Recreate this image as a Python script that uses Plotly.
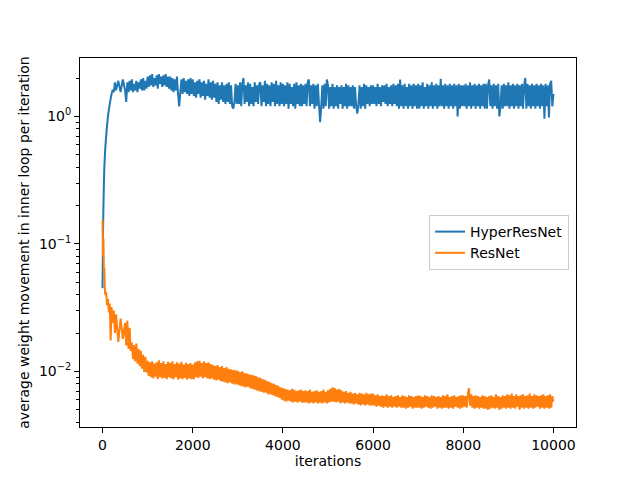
import plotly.graph_objects as go

# iteration grid: dense at the start, then every 25 iterations
early_iters = [0, 10, 20, 30, 40, 50, 60, 80, 100, 120, 140, 160, 180, 200,
               225, 250, 275, 300, 350, 400, 450]
iterations = early_iters + list(range(500, 10001, 25))

# values, one row per 500 iterations
hyper_early = [0.045, 0.12, 0.2, 0.3, 0.4, 0.48, 0.56, 0.7, 0.85, 1.0, 1.13,
               1.25, 1.38, 1.5, 1.62, 1.55, 1.85, 1.6, 1.9, 1.55, 1.95]
hyper_rest = [
    1.6, 1.3, 1.85, 1.55, 1.9, 1.6, 1.95, 1.55, 1.8, 1.6, 1.9, 1.55, 1.85, 1.65, 1.95, 1.6, 2.0, 1.6, 1.9, 1.65,
    2.05, 1.7, 2.1, 1.75, 2.15, 1.7, 2.0, 1.75, 2.1, 1.65, 2.15, 1.8, 2.05, 1.7, 2.1, 1.75, 2.15, 1.7, 2.05, 1.65,
    2.05, 1.6, 2.0, 1.55, 1.95, 1.6, 2.05, 1.5, 1.2, 1.55, 1.95, 1.5, 2.0, 1.55, 1.9, 1.5, 1.95, 1.45, 2.0, 1.5,
    1.95, 1.45, 1.85, 1.4, 1.9, 1.5, 1.95, 1.4, 1.85, 1.45, 1.9, 1.35, 1.8, 1.45, 1.95, 1.4, 1.85, 1.35, 1.9, 1.4,
    1.8, 1.3, 1.85, 1.25, 1.75, 1.35, 1.85, 1.3, 1.75, 1.25, 1.8, 1.3, 1.85, 1.25, 1.75, 1.2, 1.15, 1.3, 1.8, 1.25,
    1.75, 1.25, 1.85, 1.2, 1.8, 2.0, 1.25, 1.75, 1.3, 1.85, 1.2, 1.8, 1.25, 1.7, 1.2, 1.85, 1.3, 1.75, 1.25, 1.8,
    1.85, 1.2, 1.75, 1.3, 1.9, 1.2, 1.8, 1.25, 1.75, 1.2, 1.85, 1.3, 1.8, 1.2, 1.9, 1.25, 1.75, 1.2, 1.85, 1.25,
    1.8, 1.2, 1.75, 1.25, 1.85, 1.15, 1.8, 1.25, 1.7, 1.2, 1.8, 1.15, 1.85, 1.25, 1.75, 1.2, 1.8, 1.2, 1.75, 1.25,
    1.8, 1.2, 1.85, 1.95, 1.2, 1.75, 1.25, 1.8, 1.15, 1.75, 1.2, 1.8, 1.25, 0.9, 1.2, 1.75, 1.15, 1.8, 1.2, 1.95,
    1.75, 1.15, 1.7, 1.2, 1.8, 1.15, 1.7, 1.2, 1.75, 1.15, 1.7, 1.25, 1.75, 1.15, 1.7, 1.2, 1.8, 1.15, 1.75, 1.2,
    1.7, 1.2, 1.75, 1.15, 1.7, 1.2, 1.05, 1.25, 1.75, 1.15, 1.7, 1.2, 1.8, 1.15, 1.75, 1.25, 1.7, 1.2, 1.75, 1.25,
    1.75, 1.25, 1.7, 1.2, 1.8, 1.25, 1.7, 1.2, 1.75, 1.3, 1.75, 1.25, 1.8, 1.2, 1.7, 1.25, 1.75, 1.2, 1.8, 1.25,
    1.75, 1.2, 1.8, 1.15, 1.95, 1.2, 1.75, 1.15, 1.8, 1.2, 1.7, 1.15, 1.8, 1.2, 1.75, 1.15, 1.8, 1.2, 1.75, 1.15,
    1.8, 1.15, 1.75, 1.2, 1.85, 1.15, 1.7, 1.2, 1.8, 1.15, 1.75, 1.2, 1.85, 1.15, 1.75, 1.2, 1.8, 1.15, 1.75, 1.2,
    1.97, 1.2, 1.75, 1.15, 1.8, 1.2, 1.75, 1.15, 1.8, 1.2, 1.75, 1.15, 1.8, 1.2, 1.75, 1.0, 1.8, 1.15, 1.75, 1.2,
    1.75, 1.2, 1.8, 1.15, 1.75, 1.2, 1.85, 1.15, 1.75, 1.2, 1.8, 1.15, 1.75, 1.2, 1.8, 1.15, 1.75, 1.2, 1.8, 1.15,
    1.8, 1.15, 1.75, 1.95, 1.2, 1.75, 1.15, 1.8, 1.2, 1.75, 1.15, 1.8, 1.0, 1.2, 1.75, 1.15, 1.8, 1.2, 1.75, 1.2,
    1.85, 1.15, 1.75, 1.2, 1.8, 1.15, 1.75, 1.2, 1.8, 1.15, 1.75, 1.2, 1.8, 1.15, 1.75, 2.0, 1.15, 1.8, 1.2, 1.75,
    1.15, 1.8, 1.2, 1.75, 1.15, 1.8, 1.2, 1.75, 1.15, 1.8, 1.2, 1.75, 0.96, 1.8, 1.2, 1.75, 0.98, 1.8, 1.9, 1.2,
    1.5,
]
hyper = hyper_early + hyper_rest

resnet_early = [0.155, 0.08, 0.11, 0.06, 0.065, 0.045, 0.04, 0.042, 0.033,
                0.037, 0.029, 0.034, 0.0175, 0.032, 0.024, 0.03, 0.02, 0.028,
                0.017, 0.026, 0.018]
resnet_rest = [
    0.024, 0.016, 0.025, 0.015, 0.022, 0.0145, 0.0168, 0.0125, 0.016, 0.012, 0.0165, 0.0115, 0.015, 0.011, 0.0145, 0.0105, 0.0135, 0.0099, 0.013, 0.0098,
    0.0121, 0.0092, 0.0118, 0.009, 0.012, 0.0088, 0.0115, 0.0091, 0.0118, 0.0087, 0.0122, 0.009, 0.0116, 0.0088, 0.012, 0.0089, 0.0114, 0.0087, 0.0119, 0.009,
    0.0117, 0.0088, 0.012, 0.0087, 0.0114, 0.009, 0.0118, 0.0086, 0.0115, 0.0088, 0.0119, 0.0087, 0.0113, 0.0089, 0.0117, 0.0086, 0.0114, 0.0088, 0.0116, 0.0087,
    0.0113, 0.0087, 0.0118, 0.009, 0.012, 0.0089, 0.0121, 0.0091, 0.0117, 0.0088, 0.012, 0.009, 0.0116, 0.0088, 0.0118, 0.0087, 0.0114, 0.0088, 0.0112, 0.0086,
    0.011, 0.0085, 0.0112, 0.0086, 0.0108, 0.0084, 0.011, 0.0083, 0.0106, 0.0082, 0.0108, 0.0081, 0.0105, 0.0082, 0.0104, 0.008, 0.0103, 0.0079, 0.0102, 0.0079,
    0.0101, 0.0078, 0.0099, 0.0077, 0.01, 0.0076, 0.0097, 0.0075, 0.0096, 0.0076, 0.0095, 0.0074, 0.0094, 0.0073, 0.0093, 0.0072, 0.0092, 0.0071, 0.009, 0.007,
    0.0089, 0.0069, 0.0087, 0.0068, 0.0086, 0.0068, 0.0084, 0.0066, 0.0083, 0.0066, 0.0081, 0.0065, 0.008, 0.0064, 0.0078, 0.0063, 0.0077, 0.0062, 0.0075, 0.006,
    0.0074, 0.0059, 0.0073, 0.0058, 0.0072, 0.0059, 0.0071, 0.0058, 0.0073, 0.0057, 0.0072, 0.0058, 0.007, 0.0057, 0.0071, 0.0058, 0.0072, 0.0057, 0.007, 0.0057,
    0.0071, 0.0057, 0.007, 0.0056, 0.0072, 0.0057, 0.0069, 0.0056, 0.007, 0.0057, 0.0071, 0.0056, 0.0069, 0.0057, 0.007, 0.0056, 0.0072, 0.0057, 0.0069, 0.0056,
    0.0071, 0.0057, 0.0073, 0.0058, 0.0075, 0.0058, 0.0074, 0.0057, 0.0072, 0.0058, 0.0073, 0.0056, 0.0071, 0.0057, 0.0069, 0.0056, 0.007, 0.0057, 0.0068, 0.0056,
    0.0069, 0.0056, 0.0067, 0.0055, 0.0068, 0.0056, 0.0066, 0.0055, 0.0068, 0.0054, 0.0067, 0.0055, 0.0066, 0.0054, 0.0068, 0.0055, 0.0066, 0.0054, 0.0067, 0.0054,
    0.0067, 0.0054, 0.0065, 0.0053, 0.0066, 0.0054, 0.0064, 0.0053, 0.0065, 0.0052, 0.0064, 0.0053, 0.0066, 0.0052, 0.0064, 0.0053, 0.0065, 0.0052, 0.0063, 0.0053,
    0.0064, 0.0052, 0.0065, 0.0053, 0.0063, 0.0052, 0.0065, 0.0052, 0.0064, 0.0051, 0.0063, 0.0052, 0.0065, 0.0053, 0.0064, 0.0051, 0.0063, 0.0052, 0.0064, 0.0052,
    0.0065, 0.0052, 0.0064, 0.0051, 0.0063, 0.0052, 0.0065, 0.0053, 0.0064, 0.0052, 0.0063, 0.0051, 0.0065, 0.0052, 0.0064, 0.0053, 0.0063, 0.0051, 0.0064, 0.0052,
    0.0063, 0.0051, 0.0065, 0.0052, 0.0064, 0.0052, 0.0066, 0.0051, 0.0063, 0.0052, 0.0064, 0.0051, 0.0065, 0.0053, 0.0063, 0.0052, 0.0064, 0.0051, 0.0065, 0.0052,
    0.0065, 0.0053, 0.0064, 0.0052, 0.0066, 0.0074, 0.0054, 0.0066, 0.0052, 0.0064, 0.0051, 0.0065, 0.0052, 0.0064, 0.0051, 0.0063, 0.0052, 0.0065, 0.0051, 0.0064,
    0.0051, 0.0063, 0.005, 0.0064, 0.0051, 0.0065, 0.0052, 0.0063, 0.0051, 0.0066, 0.0052, 0.0064, 0.005, 0.0063, 0.0051, 0.0065, 0.0052, 0.0064, 0.0051, 0.0066,
    0.0052, 0.0065, 0.0051, 0.0067, 0.0052, 0.0064, 0.0051, 0.0066, 0.0053, 0.0064, 0.005, 0.0065, 0.0052, 0.0066, 0.0051, 0.0064, 0.0052, 0.0065, 0.0051, 0.0067,
    0.0052, 0.0064, 0.0051, 0.0066, 0.0052, 0.0065, 0.0053, 0.0064, 0.0051, 0.0065, 0.0052, 0.0066, 0.0051, 0.0064, 0.0052, 0.0065, 0.0051, 0.0066, 0.0052, 0.0064,
    0.0058,
]
resnet = resnet_early + resnet_rest

assert len(hyper) == len(iterations) and len(resnet) == len(iterations)

x_ticks = [0, 2000, 4000, 6000, 8000, 10000]
y_ticks = [0.01, 0.1, 1]
y_tick_labels = ["10<sup>−2</sup>", "10<sup>−1</sup>", "10<sup>0</sup>"]
y_minor = [0.004, 0.005, 0.006, 0.007, 0.008, 0.009,
           0.02, 0.03, 0.04, 0.05, 0.06, 0.07, 0.08, 0.09,
           0.2, 0.3, 0.4, 0.5, 0.6, 0.7, 0.8, 0.9, 2]

font = dict(family="DejaVu Sans", size=14, color="black")

fig = go.Figure()
fig.add_trace(go.Scatter(x=iterations, y=hyper, mode="lines", name="HyperResNet",
                         line=dict(color="#1f77b4", width=2, simplify=False)))
fig.add_trace(go.Scatter(x=iterations, y=resnet, mode="lines", name="ResNet",
                         line=dict(color="#ff7f0e", width=2, simplify=False)))

axis_common = dict(showline=True, linecolor="black", linewidth=1, mirror=True,
                   ticks="outside", ticklen=5, tickcolor="black", showgrid=False,
                   zeroline=False, tickfont=font, automargin=False)

# the page puts the figure 8px in from the corner, so margins are shifted by 8
fig.update_layout(
    width=640, height=480,
    margin=dict(l=72, r=72, t=50, b=61),
    paper_bgcolor="white", plot_bgcolor="white",
    font=font,
    xaxis=dict(range=[-500, 10500], tickvals=x_ticks, tickformat="d",
               title=dict(text="iterations", font=font, standoff=4),
               **axis_common),
    yaxis=dict(type="log", range=[-2.436, 0.458], tickvals=y_ticks,
               ticktext=y_tick_labels,
               minor=dict(tickvals=y_minor, ticks="outside", ticklen=3,
                          tickcolor="black"),
               title=dict(text="average weight movement in inner loop per iteration",
                          font=font, standoff=6),
               **axis_common),
    legend=dict(x=0.986, y=0.5, xanchor="right", yanchor="middle",
                bgcolor="white", bordercolor="#cccccc", borderwidth=1,
                font=font, tracegroupgap=0),
    showlegend=True,
)

fig.write_html("out.html")
